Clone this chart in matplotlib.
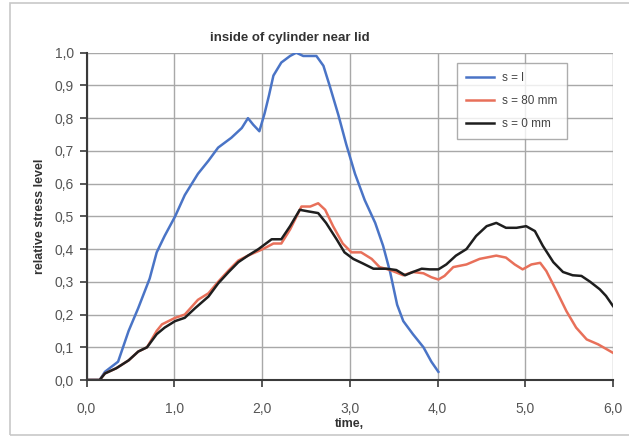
import matplotlib
matplotlib.use("Agg")
import matplotlib.pyplot as plt
from matplotlib.patches import Rectangle

plt.rcParams['font.family'] = ['Liberation Sans', 'DejaVu Sans']

title = "inside of cylinder near lid"
xlabel = "time,"
ylabel = "relative stress level"
series_names = ["s = l", "s = 80 mm", "s = 0 mm"]
x_ticks = [0, 1, 2, 3, 4, 5, 6]
x_ticklabels = ["0,0", "1,0", "2,0", "3,0", "4,0", "5,0", "6,0"]
y_ticks = [0.0, 0.1, 0.2, 0.3, 0.4, 0.5, 0.6, 0.7, 0.8, 0.9, 1.0]
y_ticklabels = ["0,0", "0,1", "0,2", "0,3", "0,4", "0,5", "0,6", "0,7", "0,8", "0,9", "1,0"]

t_l = [0, 0.15, 0.21, 0.36, 0.48, 0.59, 0.72, 0.80, 0.89, 1.01, 1.12, 1.27, 1.39, 1.50,
       1.65, 1.77, 1.84, 1.90, 1.97, 2.03, 2.08, 2.13, 2.22, 2.32, 2.39, 2.47, 2.62, 2.70,
       2.77, 2.87, 2.96, 3.06, 3.17, 3.29, 3.38, 3.46, 3.54, 3.61, 3.72, 3.84, 3.93, 4.01]
s_l = [0, 0, 0.025, 0.056, 0.15, 0.22, 0.31, 0.39, 0.44, 0.50, 0.565, 0.63, 0.67, 0.71,
       0.74, 0.77, 0.80, 0.78, 0.76, 0.815, 0.87, 0.93, 0.97, 0.99, 1.0, 0.99, 0.99, 0.96,
       0.90, 0.81, 0.72, 0.63, 0.55, 0.48, 0.41, 0.33, 0.23, 0.18, 0.14, 0.10, 0.056, 0.025]

t_80 = [0, 0.15, 0.21, 0.34, 0.48, 0.59, 0.69, 0.80, 0.86, 1.01, 1.12, 1.27, 1.39, 1.50,
        1.62, 1.73, 1.84, 2.01, 2.13, 2.22, 2.32, 2.45, 2.55, 2.64, 2.72, 2.81, 2.92, 3.02,
        3.13, 3.25, 3.34, 3.46, 3.61, 3.72, 3.84, 3.93, 4.01, 4.08, 4.18, 4.33, 4.48, 4.67,
        4.78, 4.88, 4.97, 5.07, 5.17, 5.24, 5.36, 5.47, 5.58, 5.70, 5.83, 6.0]
s_80 = [0, 0, 0.02, 0.036, 0.06, 0.087, 0.10, 0.15, 0.17, 0.19, 0.20, 0.245, 0.265, 0.30,
        0.335, 0.365, 0.38, 0.40, 0.417, 0.417, 0.46, 0.53, 0.53, 0.54, 0.52, 0.47, 0.417, 0.39,
        0.39, 0.37, 0.345, 0.336, 0.32, 0.33, 0.326, 0.314, 0.307, 0.318, 0.345, 0.353, 0.37, 0.38,
        0.374, 0.353, 0.338, 0.353, 0.358, 0.333, 0.27, 0.21, 0.16, 0.124, 0.109, 0.083]

t_0 = [0, 0.15, 0.21, 0.34, 0.48, 0.59, 0.69, 0.80, 0.89, 1.01, 1.12, 1.24, 1.39, 1.50,
       1.62, 1.73, 1.84, 1.96, 2.11, 2.22, 2.32, 2.43, 2.53, 2.64, 2.73, 2.85, 2.94, 3.04,
       3.15, 3.27, 3.42, 3.53, 3.63, 3.72, 3.82, 3.91, 4.01, 4.10, 4.21, 4.33, 4.44, 4.56,
       4.67, 4.78, 4.90, 5.01, 5.11, 5.20, 5.32, 5.43, 5.54, 5.64, 5.74, 5.85, 5.92, 6.0]
s_0 = [0, 0, 0.02, 0.036, 0.06, 0.087, 0.10, 0.14, 0.16, 0.18, 0.19, 0.22, 0.255, 0.295,
       0.33, 0.36, 0.38, 0.40, 0.43, 0.43, 0.47, 0.52, 0.515, 0.51, 0.48, 0.43, 0.39, 0.37,
       0.356, 0.34, 0.34, 0.336, 0.32, 0.33, 0.34, 0.338, 0.338, 0.353, 0.38, 0.40, 0.44, 0.47,
       0.48, 0.465, 0.465, 0.47, 0.455, 0.41, 0.36, 0.33, 0.32, 0.318, 0.30, 0.277, 0.257, 0.226]

W, H = 629, 438
fig = plt.figure(figsize=(W / 100, H / 100), dpi=100)
fig.patch.set_facecolor("white")
fig.patches.append(Rectangle((10 / W, 3 / H), (W - 8) / W, (H - 6) / H, transform=fig.transFigure,
                             fill=False, edgecolor="#c8c8c8", linewidth=1.2))

ax = fig.add_axes([86.5 / W, 1 - 380 / H, (613 - 86.5) / W, (380 - 52.7) / H])
ax.set_xlim(0, 6)
ax.set_ylim(0, 1.0)

ax.plot(t_l, s_l, color="#4a74c6", lw=1.8, label=series_names[0], solid_joinstyle="round")
ax.plot(t_80, s_80, color="#e8705a", lw=1.8, label=series_names[1], solid_joinstyle="round")
ax.plot(t_0, s_0, color="#1e1e1e", lw=1.8, label=series_names[2], solid_joinstyle="round")

ax.set_xticks(x_ticks)
ax.set_xticklabels(x_ticklabels)
ax.set_yticks(y_ticks)
ax.set_yticklabels(y_ticklabels)
ax.grid(True, color="#a8a8a8", linewidth=1.0)
ax.set_axisbelow(True)
for side in ["top", "right"]:
    ax.spines[side].set_visible(False)
for side in ["left", "bottom"]:
    ax.spines[side].set_color("#3a3a3a")
    ax.spines[side].set_linewidth(1.5)
ax.tick_params(axis="both", direction="out", length=5, width=1.2, color="#3a3a3a",
               labelsize=10, labelcolor="#555555")
ax.tick_params(axis="x", pad=11)
ax.tick_params(axis="y", pad=4)

ax.set_xlabel(xlabel, fontsize=9, fontweight="bold", color="#333333", labelpad=1)
ax.set_ylabel(ylabel, fontsize=9, fontweight="bold", color="#333333", labelpad=6)
fig.text(290 / W, 1 - 38 / H, title, fontsize=9.5, fontweight="bold", color="#333333",
         ha="center", va="center")

leg = ax.legend(loc="upper left", bbox_to_anchor=((457 - 86.5) / 526.5, (380 - 63) / 327.3),
                borderaxespad=0, fontsize=8.5, frameon=True, fancybox=False, edgecolor="#999999",
                handlelength=2.3, borderpad=0.8, labelspacing=0.9, handletextpad=0.7)
leg.get_frame().set_linewidth(1.0)
for txt in leg.get_texts():
    txt.set_color("#444444")

fig.savefig("out.png", dpi=100)
